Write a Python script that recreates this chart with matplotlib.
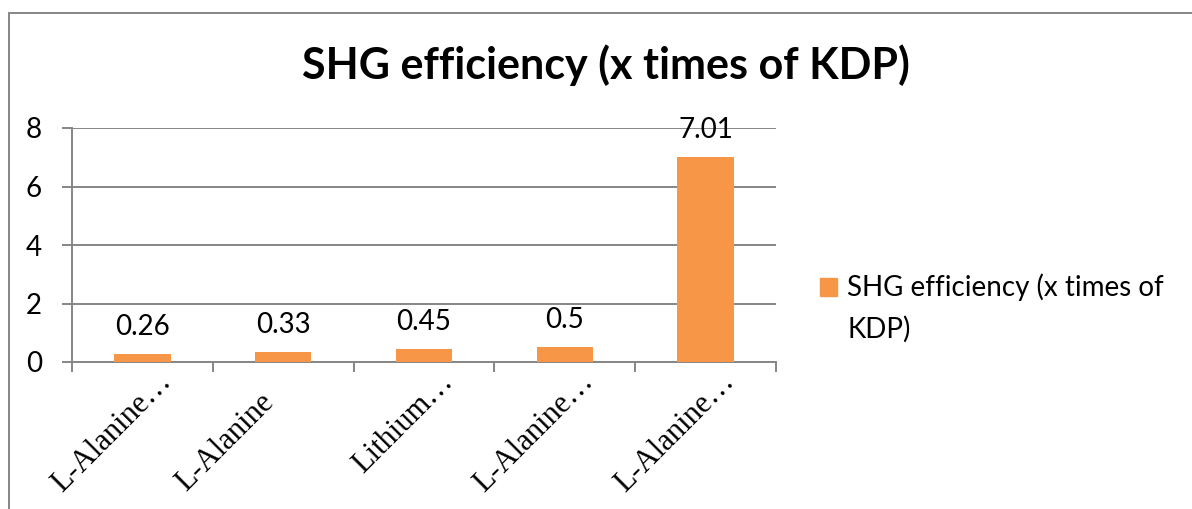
import matplotlib
matplotlib.use("Agg")
import matplotlib.pyplot as plt
from matplotlib.patches import Rectangle
from matplotlib.transforms import offset_copy

categories = ["L-Alanine…", "L-Alanine", "Lithium…", "L-Alanine…", "L-Alanine…"]
values = [0.26, 0.33, 0.45, 0.5, 7.01]
value_labels = ["0.26", "0.33", "0.45", "0.5", "7.01"]
series_name = "SHG efficiency (x times of KDP)"
legend_label = "SHG efficiency (x times of\nKDP)"
yticks = [0, 2, 4, 6, 8]

W, H = 1192, 509
PX = 72 / 100  # points per pixel at dpi 100
fig = plt.figure(figsize=(W / 100, H / 100), dpi=100)
fig.patch.set_facecolor("white")
GRAY = "#868686"
ORANGE = "#F79646"
SANS = "Lato"

# outer chart border (right and bottom edges lie outside the picture)
fig.add_artist(Rectangle((9 / W, -0.05), 1.2, (H - 13) / H + 0.05,
                         transform=fig.transFigure, fill=False,
                         edgecolor=GRAY, linewidth=1.4))

ax = fig.add_axes([72 / W, 1 - 362 / H, (776 - 72) / W, (362 - 128) / H])
x = list(range(len(categories)))
ax.bar(x, values, width=0.40, color=ORANGE, zorder=3)
ax.set_xlim(-0.5, len(categories) - 0.5)
ax.set_ylim(0, 8)
ax.set_yticks(yticks)
ax.set_yticklabels([str(t) for t in yticks], fontsize=20, family=SANS)
ax.grid(axis="y", color=GRAY, linewidth=1.4, zorder=0)
for s in ["top", "right"]:
    ax.spines[s].set_visible(False)
for s in ["bottom", "left"]:
    ax.spines[s].set_color(GRAY)
    ax.spines[s].set_linewidth(1.4)
ax.tick_params(axis="y", length=10 * PX, color=GRAY, width=1.4, pad=20 * PX)
ax.set_xticks([i - 0.5 for i in range(len(categories) + 1)])
ax.set_xticklabels([""] * (len(categories) + 1))
ax.tick_params(axis="x", length=10 * PX, color=GRAY, width=1.4)

# Excel-like rotated labels: truncated ones end near the category centre,
# a fully shown one starts at the left of its label box.
end_tr = offset_copy(ax.transData, fig=fig, x=30 * PX, y=-21 * PX, units="points")
start_tr = offset_copy(ax.transData, fig=fig, x=-97 * PX, y=-130 * PX, units="points")
for i, lab in enumerate(categories):
    truncated = lab.endswith("…")
    ax.text(i, 0, lab, rotation=45, ha="right" if truncated else "left",
            va="baseline", rotation_mode="anchor", fontsize=22,
            family="Liberation Serif",
            transform=end_tr if truncated else start_tr, clip_on=False)

for xi, v, lab in zip(x, values, value_labels):
    ax.annotate(lab, (xi, v), xytext=(0, 19 * PX), textcoords="offset points",
                ha="center", va="baseline", fontsize=20, family=SANS)

fig.text(606 / W, 1 - 79 / H, series_name, ha="center", va="baseline",
         fontsize=31, fontweight="bold", family=SANS)

# legend
fig.add_artist(Rectangle((820 / W, 1 - 296 / H), 17 / W, 18 / H,
                         transform=fig.transFigure, color=ORANGE))
fig.text(847 / W, 1 - 296 / H, legend_label.split("\n")[0], ha="left",
         va="baseline", fontsize=20, family=SANS)
fig.text(847 / W, 1 - 338 / H, legend_label.split("\n")[1], ha="left",
         va="baseline", fontsize=20, family=SANS)

fig.savefig("out.png", dpi=100)
